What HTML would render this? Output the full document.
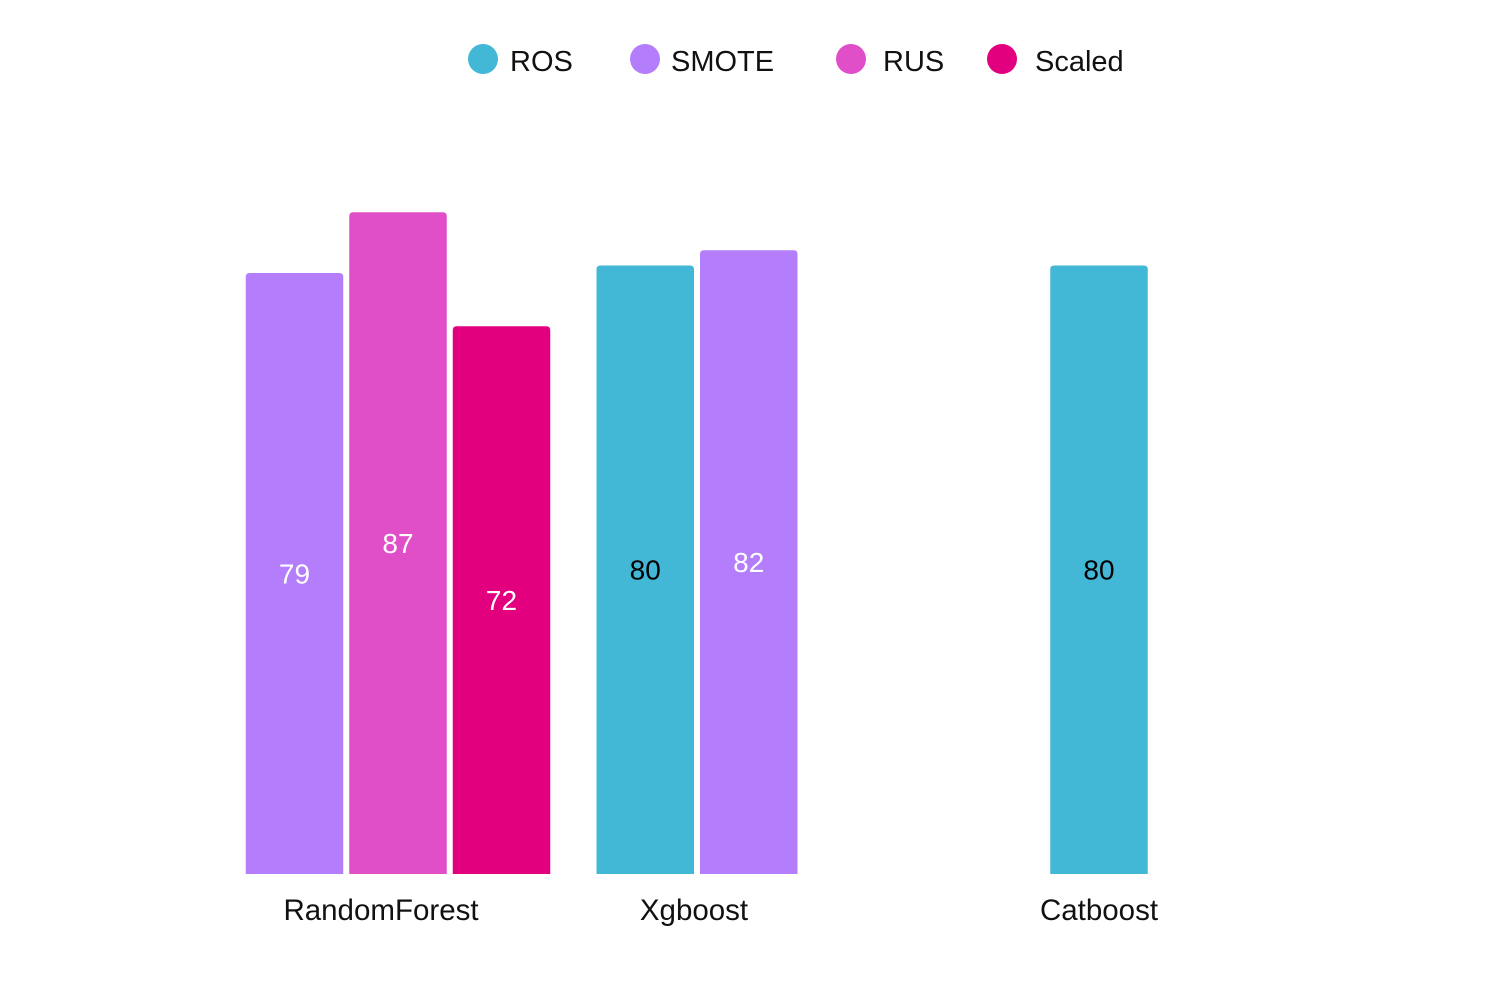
<!DOCTYPE html>
<html><head><meta charset="utf-8"><style>
html,body{margin:0;padding:0;background:#fff;}
svg{display:block;font-family:"Liberation Sans",Arial,sans-serif;}
</style></head><body>
<svg id="chart" width="1488" height="990"></svg>
<script>
const categories=["RandomForest","Xgboost","Catboost"];
const seriesNames=["ROS","SMOTE","RUS","Scaled"];
const rosValues=[null,80,80];
const smoteValues=[79,82,null];
const rusValues=[87,null,null];
const scaledValues=[72,null,null];
const colors=["#42b7d6","#b37dfc","#e04ec8","#e3007f"];
const labelColors=["#000","#fff","#fff","#fff"];
const seriesValues=[rosValues,smoteValues,rusValues,scaledValues];
const NS="http://www.w3.org/2000/svg";
const svg=document.getElementById("chart");
const baseY=874, pxPerUnit=7.607;
const yScale=v=>baseY-v*pxPerUnit;
const groupCenters=[398,697,1099];
const labelCenters=[381,694,1099];
const barW=97.5, gap=6;
function mk(t,a){const e=document.createElementNS(NS,t);for(const k in a)e.setAttribute(k,a[k]);svg.appendChild(e);return e;}
const legX=[483,645,851,1002];
seriesNames.forEach((n,i)=>{
  const c=mk("circle",{cx:legX[i],cy:59,r:15,fill:colors[i]});
  
  
  const t=mk("text",{x:legX[i]+(i==0?27:i==1?26:i==2?32:33),y:71,"font-size":29,fill:"#111"});
  t.textContent=n;
  
  
});
categories.forEach((cat,ci)=>{
  const present=[];
  seriesValues.forEach((arr,si)=>{if(arr[ci]!=null)present.push(si);});
  const total=present.length*barW+(present.length-1)*gap;
  let x=groupCenters[ci]-total/2;
  present.forEach(si=>{
    const v=seriesValues[si][ci], top=yScale(v), h=baseY-top, r=4;
    const p=mk("path",{d:`M${x},${baseY}V${top+r}Q${x},${top} ${x+r},${top}H${x+barW-r}Q${x+barW},${top} ${x+barW},${top+r}V${baseY}Z`,fill:colors[si]});
    
    
    const t=mk("text",{x:x+barW/2,y:top+h/2+10,"font-size":28,fill:labelColors[si],"text-anchor":"middle"});
    t.textContent=v;
    
    
    x+=barW+gap;
  });
  const l=mk("text",{x:labelCenters[ci],y:920,"font-size":29.5,fill:"#111","text-anchor":"middle"});
  l.textContent=cat;
  
  
});
</script>
</body></html>
